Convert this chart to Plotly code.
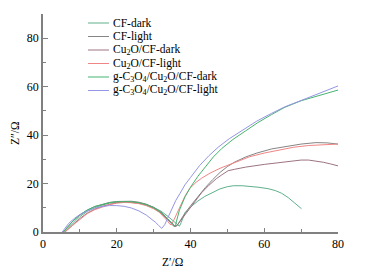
import plotly.graph_objects as go

names = ["CF-dark", "CF-light", "Cu<sub>2</sub>O/CF-dark", "Cu<sub>2</sub>O/CF-light",
         "g-C<sub>3</sub>O<sub>4</sub>/Cu<sub>2</sub>O/CF-dark",
         "g-C<sub>3</sub>O<sub>4</sub>/Cu<sub>2</sub>O/CF-light"]
colors = ["#5fb08c", "#858585", "#9c7480", "#f08585", "#45b56e", "#9595e6"]

cf_dark_x = [5.8, 6.8, 8, 10, 12, 14, 16, 18, 20, 22, 24, 26, 28, 30, 32, 34, 35.5, 36.5, 37.0, 37.5, 38.5, 40, 42, 43.9, 46, 48, 50, 51.6, 54, 56, 58.3, 61, 63, 64.7, 66.5, 68.3, 70.1]
cf_dark_y = [0, 1.6, 3.6, 6.4, 8.5, 10.0, 11.1, 11.9, 12.3, 12.5, 12.4, 12.0, 11.3, 10.2, 8.6, 6.3, 4.3, 2.8, 2.4, 4.0, 8.0, 10.3, 12.8, 14.7, 16.4, 17.8, 18.7, 19.1, 19.1, 18.9, 18.5, 17.9, 17.1, 16.0, 14.2, 11.9, 9.6]

cf_light_x = [5.5, 6.5, 8, 10, 12, 14, 16, 18, 20, 22, 24, 26, 28, 30, 32, 33.5, 34.5, 35.2, 35.7, 36.3, 37, 38, 40, 42, 44, 46, 48, 50, 52, 55, 58, 62, 66, 70, 74, 77, 80]
cf_light_y = [0, 1.8, 4.3, 7.0, 9.0, 10.5, 11.5, 12.2, 12.6, 12.8, 12.7, 12.3, 11.5, 10.2, 8.2, 6.0, 4.3, 3.0, 2.3, 2.5, 4.2, 6.6, 10.8, 14.6, 18.3, 21.6, 24.6, 27.0, 28.9, 31.0, 32.6, 34.3, 35.4, 36.3, 36.9, 36.8, 36.3]

cu_dark_x = [6, 7, 8.5, 10, 12, 14, 16, 18, 20, 22, 24, 26, 28, 30, 32, 33.5, 34.5, 35.2, 35.8, 36.5, 37.5, 39, 41, 43, 45, 47, 48.5, 50.2, 52, 55, 60, 65, 70, 72, 74, 76, 78, 80]
cu_dark_y = [0, 1.4, 3.5, 5.6, 7.8, 9.4, 10.6, 11.5, 12.1, 12.4, 12.3, 11.9, 11.1, 9.8, 7.9, 5.8, 4.0, 2.7, 2.2, 3.0, 5.0, 8.4, 12.5, 16.2, 19.3, 22.0, 23.6, 25.3, 25.9, 26.8, 27.9, 28.9, 29.7, 29.7, 29.4, 28.8, 28.1, 27.3]

cu_light_x = [5.8, 7, 8.5, 10, 12, 14, 16, 18, 20, 22, 24, 26, 28, 30, 31.5, 32.8, 33.8, 34.4, 34.8, 35.5, 37, 38.5, 39.8, 41.5, 43, 45.3, 48, 50, 52, 54, 56.1, 60, 64, 68, 72, 76, 80]
cu_light_y = [0, 1.5, 3.6, 5.5, 7.6, 9.2, 10.4, 11.3, 11.9, 12.2, 12.1, 11.7, 10.9, 9.6, 8.2, 6.3, 4.5, 3.2, 3.0, 5.0, 10.0, 14.8, 18.0, 20.5, 22.2, 24.3, 26.3, 27.5, 28.6, 29.9, 31.1, 32.6, 33.9, 35.0, 35.7, 36.1, 36.3]

gc_dark_x = [5.5, 6.5, 8, 10, 12, 14, 16, 18, 20, 22, 24, 26, 28, 30, 32, 33.5, 34.8, 35.5, 35.9, 36.2, 37, 38.5, 40, 42, 44, 46.2, 48.5, 51.5, 55, 58.3, 62, 65.6, 70, 73.7, 77, 80]
gc_dark_y = [0, 1.9, 4.4, 7.1, 9.1, 10.5, 11.4, 12.1, 12.5, 12.6, 12.5, 12.1, 11.3, 10.0, 8.0, 5.9, 3.8, 2.6, 2.3, 4.5, 9.0, 14.5, 18.5, 23.0, 27.0, 31.0, 34.5, 38.2, 41.8, 45.2, 48.5, 51.5, 54.2, 55.8, 57.3, 58.6]

gc_light_x = [5.2, 6, 7, 8.5, 10, 12, 14, 16, 18, 20, 22, 24, 26, 28, 29.5, 30.5, 31.3, 32.2, 33, 34, 35, 36, 37.1, 38.5, 40, 42.5, 45, 47.5, 50.5, 54, 58, 62, 65.6, 70, 74, 77, 80]
gc_light_y = [0, 1.8, 3.6, 5.6, 7.2, 8.7, 9.8, 10.5, 10.9, 10.9, 10.6, 9.9, 8.7, 7.0, 5.3, 4.0, 2.8, 1.5, 3.0, 6.5, 10.0, 13.0, 15.8, 19.5, 22.5, 27.5, 31.5, 35.0, 38.5, 42.0, 45.8, 49.0, 51.7, 54.3, 56.7, 58.4, 60.3]

xs = [cf_dark_x, cf_light_x, cu_dark_x, cu_light_x, gc_dark_x, gc_light_x]
ys = [cf_dark_y, cf_light_y, cu_dark_y, cu_light_y, gc_dark_y, gc_light_y]

x_ticks = [0, 20, 40, 60, 80]
y_ticks = [0, 20, 40, 60, 80]
x_title = "Z′/Ω"
y_title = "Z″/Ω"

W, H = 370, 278
OFF = 8  # page body margin offset
L, T = 43 - OFF, 14 - OFF
R, B = W - (338 - OFF), H - (232 - OFF)
pw, ph = W - L - R, H - T - B


def px(xp):
    return (xp - OFF - L) / pw


def py(yp):
    return (H - B - (yp - OFF)) / ph


fig = go.Figure()
for n, c, x, y in zip(names, colors, xs, ys):
    fig.add_trace(go.Scatter(x=x, y=y, mode="lines", name=n,
                             line=dict(color=c, width=1), showlegend=False))

font = "Liberation Serif, Times New Roman, serif"

annotations = []
shapes = []
for i, (n, c) in enumerate(zip(names, colors)):
    yp = py(23 + 13.5 * i)
    shapes.append(dict(type="line", xref="paper", yref="paper",
                       x0=px(88), x1=px(109), y0=yp, y1=yp,
                       line=dict(color=c, width=1)))
    annotations.append(dict(text=n, xref="paper", yref="paper",
                            x=px(111), y=yp, xanchor="left", yanchor="middle",
                            showarrow=False, font=dict(family=font, size=11.5, color="black")))

annotations.append(dict(text=x_title, xref="paper", yref="paper",
                        x=px(172), y=py(262), xanchor="center", yanchor="middle",
                        showarrow=False, font=dict(family=font, size=11.5, color="black")))
annotations.append(dict(text=y_title, xref="paper", yref="paper", textangle=-90,
                        x=px(15), y=py(133), xanchor="center", yanchor="middle",
                        showarrow=False, font=dict(family=font, size=11.5, color="black")))

axis_common = dict(showline=True, linecolor="#808080", linewidth=1.5,
                   ticks="inside", tickcolor="#808080", tickwidth=1,
                   showgrid=False, zeroline=False, automargin=False,
                   tickfont=dict(family=font, size=12, color="black"))
fig.update_layout(
    width=W, height=H,
    margin=dict(l=L, r=R, t=T, b=B, autoexpand=False),
    paper_bgcolor="white", plot_bgcolor="white",
    showlegend=False,
    annotations=annotations, shapes=shapes,
    xaxis=dict(range=[0, 80], tickvals=x_ticks, ticklen=4,
               minor=dict(dtick=10, tick0=0, ticks="inside", ticklen=3, tickcolor="#808080"),
               **axis_common),
    yaxis=dict(range=[0, 90], tickvals=y_ticks, ticklen=5,
               minor=dict(dtick=10, tick0=0, ticks="inside", ticklen=3, tickcolor="#808080"),
               **axis_common),
)
fig.write_html("out.html")
